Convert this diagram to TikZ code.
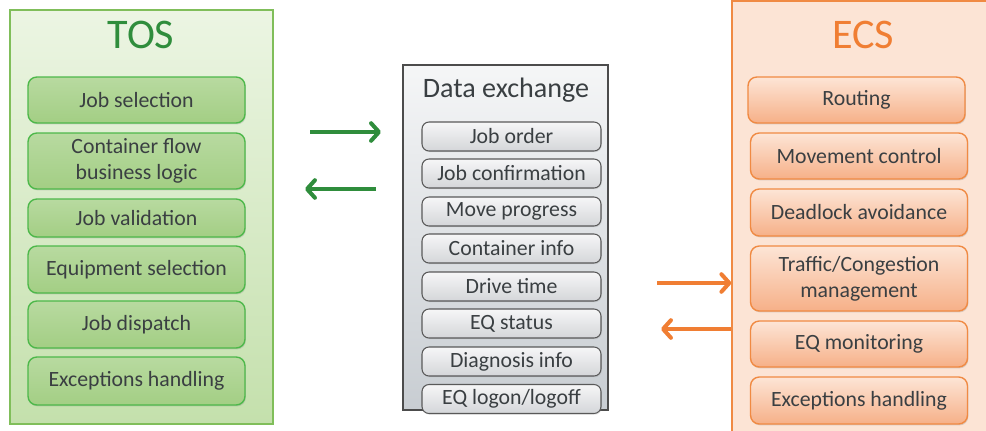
\documentclass[tikz,border=0pt]{standalone}
\usepackage{fontspec}
\setmainfont{Carlito}
\usetikzlibrary{arrows.meta,shadows}
\usepackage{xcolor}

\definecolor{tosdark}{HTML}{2F8D3C}
\definecolor{tosline}{HTML}{4DB84A}
\definecolor{ecsdark}{HTML}{F07E33}
\definecolor{ecsline}{HTML}{F08A43}
\definecolor{txtgray}{HTML}{3A3F42}

\tikzset{
  tositem/.style={draw=tosline, line width=0.8pt, rounded corners=5pt,
    top color={rgb,255:red,184;green,218;blue,160}, bottom color={rgb,255:red,163;green,206;blue,132},
    minimum width=4.34cm, align=center, inner sep=1pt,
    drop shadow={opacity=0.25, shadow xshift=0.5pt, shadow yshift=-0.8pt}},
  dataitem/.style={draw=black!65, line width=0.6pt, rounded corners=4pt,
    top color={rgb,255:red,246;green,246;blue,247}, bottom color={rgb,255:red,212;green,214;blue,217},
    minimum width=3.58cm, minimum height=0.58cm, inner sep=1pt,
    drop shadow={opacity=0.2, shadow xshift=0.5pt, shadow yshift=-0.7pt}},
  ecsitem/.style={draw=ecsline, line width=0.8pt, rounded corners=5pt,
    top color={rgb,255:red,253;green,229;blue,214}, bottom color={rgb,255:red,246;green,176;blue,136},
    minimum width=4.34cm, align=center, inner sep=1pt,
    drop shadow={opacity=0.25, shadow xshift=0.5pt, shadow yshift=-0.8pt}},
  flowarrow/.style={line width=2.3pt,
    -{Straight Barb[length=4.5pt, width=10pt, line cap=round, line join=round]}},
}

\begin{document}
\begin{tikzpicture}[x=0.02cm, y=-0.02cm, text=txtgray,
    font=\fontsize{12.4}{14.6}\selectfont]
  \clip (0,0) rectangle (986,430);

  % containers
  \node[draw={rgb,255:red,128;green,190;blue,90}, line width=0.8pt,
    top color={rgb,255:red,236;green,245;blue,227}, bottom color={rgb,255:red,196;green,224;blue,172},
    minimum width=5.26cm, minimum height=8.28cm] (tos) at (141.5,217) {};
  \node[draw=black!70, line width=0.7pt,
    top color={rgb,255:red,245;green,246;blue,247}, bottom color={rgb,255:red,200;green,205;blue,210},
    minimum width=4.1cm, minimum height=6.9cm] (dx) at (505.5,237.5) {};
  \node[draw=ecsline, line width=0.8pt, fill={rgb,255:red,252;green,228;blue,213},
    minimum width=5.36cm, minimum height=8.78cm] (ecs) at (866,220.5) {};

  % titles
  \node[text=tosdark, font=\fontsize{24}{28}\selectfont] (tostitle) at (141,35) {TOS};
  \node[font=\fontsize{16}{19}\selectfont] (dxtitle) at (506,90) {Data exchange};
  \node[text=ecsdark, font=\fontsize{24}{28}\selectfont] (ecstitle) at (863,35) {ECS};

  % TOS functions
  \node[tositem, minimum height=0.92cm] (jobsel) at (136.5,100) {Job selection};
  \node[tositem, minimum height=1.12cm] (cflow) at (136.5,161) {Container flow\\business logic};
  \node[tositem, minimum height=0.76cm] (jobval) at (136.5,218) {Job validation};
  \node[tositem, minimum height=0.94cm] (eqsel) at (136.5,269.5) {Equipment selection};
  \node[tositem, minimum height=0.94cm] (jobdis) at (136.5,324.5) {Job dispatch};
  \node[tositem, minimum height=0.96cm] (tosexc) at (136.5,381) {Exceptions handling};

  % data exchange items
  \node[dataitem] (jorder) at (511.5,136.5) {Job order};
  \node[dataitem] (jconf) at (511.5,173.5) {Job confirmation};
  \node[dataitem] (mprog) at (511.5,211.5) {Move progress};
  \node[dataitem] (cinfo) at (511.5,248.5) {Container info};
  \node[dataitem] (dtime) at (511.5,286.5) {Drive time};
  \node[dataitem] (eqstat) at (511.5,323.5) {EQ status};
  \node[dataitem] (dinfo) at (511.5,361.5) {Diagnosis info};
  \node[dataitem] (eqlog) at (511.5,399) {EQ logon/logoff};

  % ECS functions
  \node[ecsitem, minimum height=0.92cm] (routing) at (856.5,100) {Routing};
  \node[ecsitem, minimum height=0.92cm] (movctl) at (859,156) {Movement control};
  \node[ecsitem, minimum height=0.94cm] (dlock) at (859,212.5) {Deadlock avoidance};
  \node[ecsitem, minimum height=1.3cm] (traffic) at (859,278.5) {Traffic/Congestion\\management};
  \node[ecsitem, minimum height=0.92cm] (eqmon) at (859,344) {EQ monitoring};
  \node[ecsitem, minimum height=0.94cm] (ecsexc) at (859,400.5) {Exceptions handling};

  % arrows
  \coordinate (gout) at (310,132);
  \coordinate (gin) at (381,132);
  \coordinate (gback) at (376,189);
  \coordinate (gend) at (305,189);
  \coordinate (oout) at (657,283);
  \coordinate (oend) at (661,329);
  \draw[flowarrow, tosdark] (gout) -- (gin);
  \draw[flowarrow, tosdark] (gback) -- (gend);
  \draw[flowarrow, ecsdark] (oout) -- (oout -| ecs.west);
  \draw[flowarrow, ecsdark] (oend -| ecs.west) -- (oend);
\end{tikzpicture}
\end{document}
